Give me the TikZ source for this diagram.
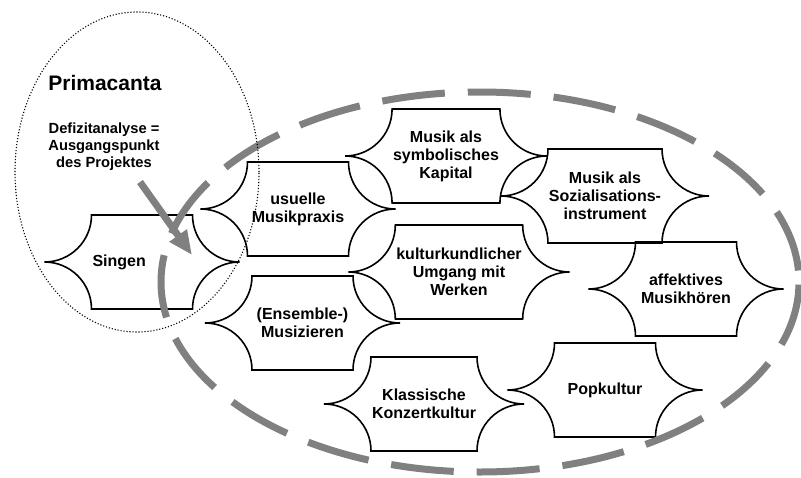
\documentclass[tikz,border=0pt]{standalone}
\usepackage{fontspec}
\setmainfont{Liberation Sans}
\usetikzlibrary{positioning}
\usetikzlibrary{arrows.meta}
\definecolor{ringgrau}{RGB}{128,128,128}

\begin{document}
\begin{tikzpicture}[x=1pt, y=1pt,
        p/.style={rectangle, minimum width=#1, minimum height=94pt, inner sep=1pt, outer sep=0pt, align=center, font=\bfseries\fontsize{16}{18}\selectfont},
        p/.default=101pt,
        umriss/.style={draw=black, line width=1.6pt},
        ring/.style={draw=ringgrau, line width=7pt, dash pattern=on 63pt off 23pt, dash phase=74.5pt}]
        \useasboundingbox (0,0) rectangle (801,-477);

        \node[p, text width=99pt, align=left] (singen) at (142,-262) {Singen};
        \node[p] (usuell) at (298,-209) {usuelle\\Musikpraxis};
        \node[p] (ensemble) at (302.5,-323) {(Ensemble-)\\Musizieren};
        \node[p] (symbol) at (446,-156) {Musik als\\symbolisches\\Kapital};
        \node[p] (sozial) at (605,-196) {Musik als\\Sozialisations-\\instrument};
        \node[p=108pt] (kultur) at (459,-272) {kulturkundlicher\\Umgang mit\\Werken};
        \node[p] (affekt) at (686,-289) {affektives\\Musikhören};
        \node[p] (klassik) at (424,-404) {Klassische\\Konzertkultur};
        \node[p] (pop) at (605,-390) {Popkultur};

        \node[anchor=base, font=\bfseries\fontsize{21}{25}\selectfont] (titel) at (105,-90) {Primacanta};
        \node[inner sep=0pt, align=center, font=\bfseries\fontsize{14.7}{17}\selectfont] (defizit) at (104,-146.5) {Defizitanalyse =\\Ausgangspunkt\\des Projektes};

        % Umrisse mit eingezogenen Ecken
        \foreach \n in {singen, usuell, ensemble, symbol, sozial, kultur, affekt, klassik, pop}
            \draw[umriss] (\n.north east) arc[start angle=180, end angle=270, radius=47pt]
                arc[start angle=90, end angle=180, radius=47pt] -- (\n.south west)
                arc[start angle=0, end angle=90, radius=47pt]
                arc[start angle=270, end angle=360, radius=47pt] -- cycle;

        \draw[ring] (480,-282) ellipse [x radius=319pt, y radius=190pt];
        \draw[line width=1.1pt, dash pattern=on 1.1pt off 1.9pt] (137,-172) ellipse [x radius=122pt, y radius=160pt];

        \coordinate (pfeilstart) at (140,-182);
        \coordinate (pfeilende) at (192,-255);
        \draw[ringgrau, line width=7pt, -{Triangle[length=24pt, width=20pt]}] (pfeilstart) -- (pfeilende);
    \end{tikzpicture}
\end{document}
